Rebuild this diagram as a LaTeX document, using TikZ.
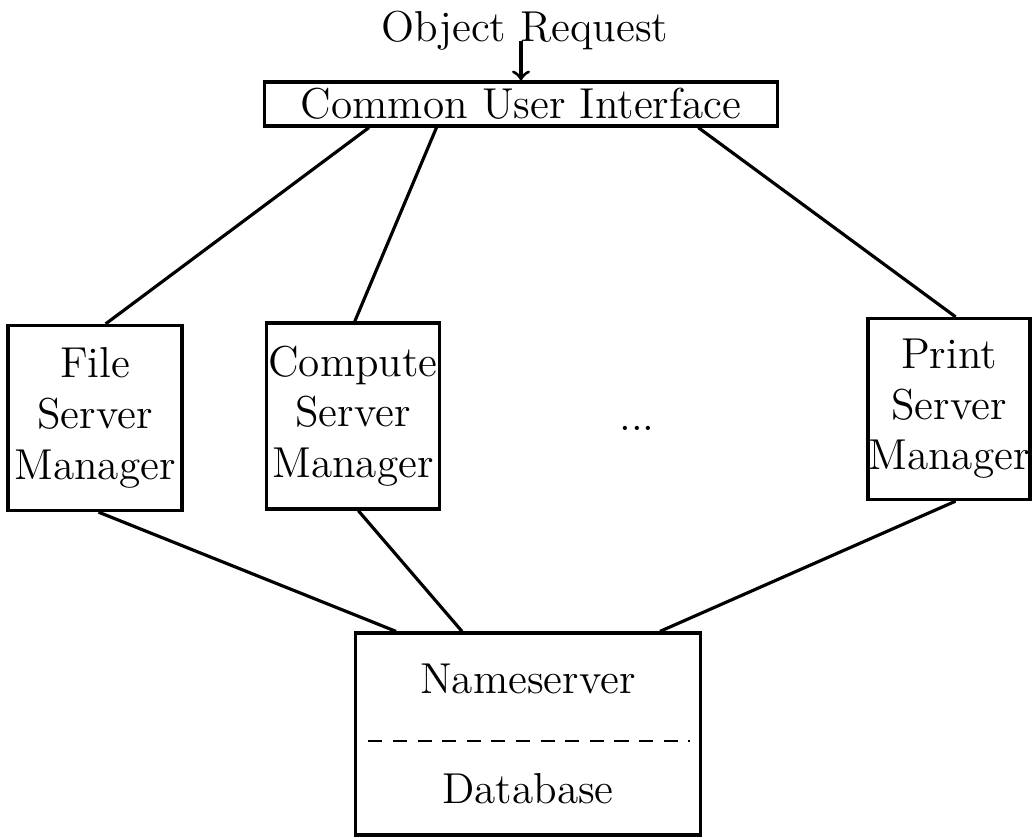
\documentclass[tikz,border=0pt]{standalone}
\usetikzlibrary{positioning, calc}
\tikzset{
	box/.append style={
		draw,
		align = center,
		inner sep=0pt,
		line width=0.9pt,
	},
	link/.append style={
		line width=0.9pt,
	},
	divider/.append style={
		line width=0.5pt,
		dash pattern=on 4pt off 3pt,
	}
}

\begin{document}
\begin{tikzpicture}[x=0.01cm, y=-0.01cm, font=\fontsize{12.3}{14.4}\selectfont]
	
	\useasboundingbox (0,0) rectangle (1033,839);
	
	\node (cui)[box, minimum width=5.12cm, minimum height=0.44cm] at (521,104) {Common User Interface};
	\node (request)[above=1.8mm of cui, xshift=0.04cm] {Object Request};
	\draw[->, link](cui.north |- request.base) to (cui.north);
	
	\node (file)[box, minimum width=1.74cm, minimum height=1.85cm] at (95,418) {File\\Server\\Manager};
	\node (compute)[box, minimum width=1.73cm, minimum height=1.86cm] at (353,416) {Compute\\Server\\Manager};
	\node (print)[box, minimum width=1.62cm, minimum height=1.81cm] at (949,409) {Print\\Server\\Manager};
	\node (dots) at (637,428) {...};
	
	\node (ns)[box, minimum width=3.44cm, minimum height=2.02cm] at (528,734) {};
	\node (nstext)[below=0.2cm of ns.north] {Nameserver};
	\node (db)[above=0.2cm of ns.south] {Database};
	\draw[divider]($(ns.west)+(14,7)$) to ($(ns.east)+(-12,7)$);
	
	% upper links
	\draw[link]($(cui.south west)!.205!(cui.south east)$) to ($(file.north west)!.56!(file.north east)$);
	\draw[link]($(cui.south west)!.336!(cui.south east)$) to ($(compute.north west)!.51!(compute.north east)$);
	\draw[link]($(cui.south west)!.844!(cui.south east)$) to ($(print.north west)!.54!(print.north east)$);
	
	% lower links
	\draw[link]($(file.south west)!.52!(file.south east)$) to ($(ns.north west)!.12!(ns.north east)$);
	\draw[link]($(compute.south west)!.53!(compute.south east)$) to ($(ns.north west)!.31!(ns.north east)$);
	\draw[link]($(print.south west)!.54!(print.south east)$) to ($(ns.north west)!.88!(ns.north east)$);
	
\end{tikzpicture}
\end{document}
